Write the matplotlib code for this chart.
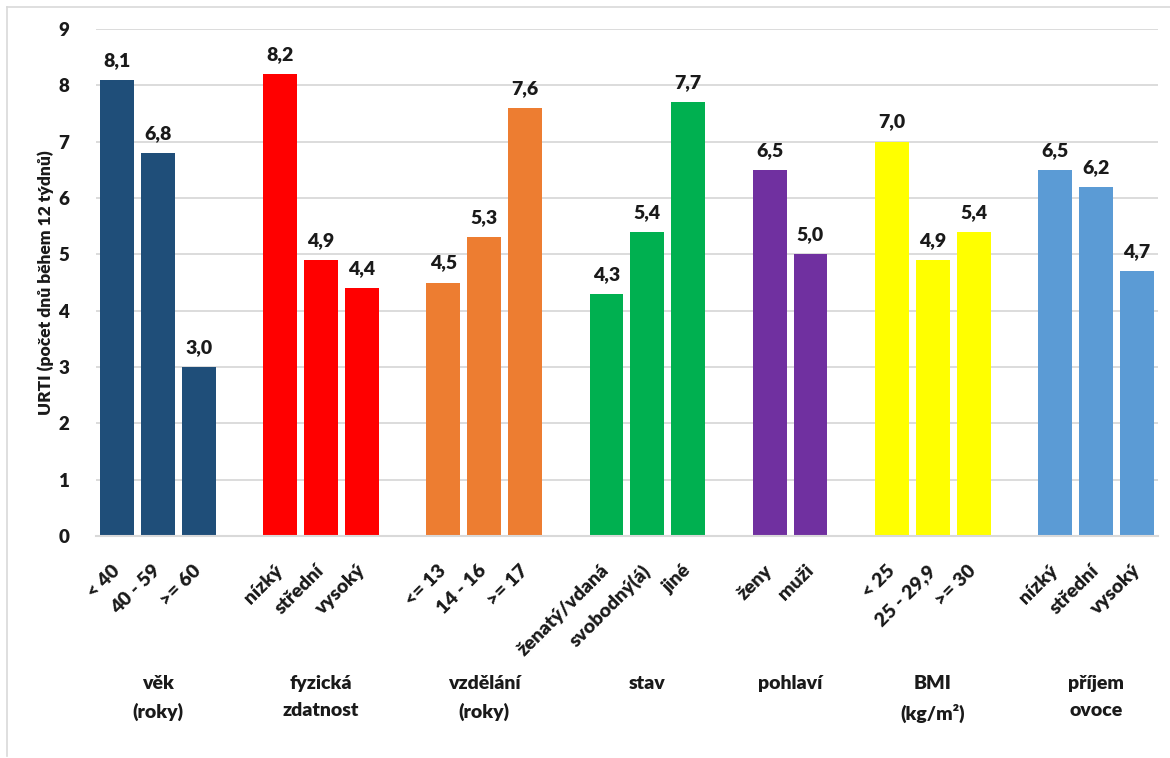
import matplotlib
matplotlib.use("Agg")
import matplotlib.pyplot as plt
from matplotlib.lines import Line2D

plt.rcParams['font.family'] = ['Lato', 'DejaVu Sans']
plt.rcParams['font.weight'] = 'heavy'
FW = 'heavy'

# Data: groups of categories with URTI values (days during 12 weeks)
group_names = ["věk\n(roky)", "fyzická\nzdatnost", "vzdělání\n(roky)", "stav",
               "pohlaví", "BMI\n(kg/m²)", "příjem\novoce"]
group_categories = [
    ["< 40", "40 - 59", ">= 60"],
    ["nízký", "střední", "vysoký"],
    ["<= 13", "14 - 16", ">= 17"],
    ["ženatý/vdaná", "svobodný(á)", "jiné"],
    ["ženy", "muži"],
    ["< 25", "25 - 29,9", ">= 30"],
    ["nízký", "střední", "vysoký"],
]
group_values = [
    [8.1, 6.8, 3.0],
    [8.2, 4.9, 4.4],
    [4.5, 5.3, 7.6],
    [4.3, 5.4, 7.7],
    [6.5, 5.0],
    [7.0, 4.9, 5.4],
    [6.5, 6.2, 4.7],
]
group_colors = ["#1F4E79", "#FF0000", "#ED7D31", "#00B050",
                "#7030A0", "#FFFF00", "#5B9BD5"]
y_ticks = list(range(0, 10))

fig = plt.figure(figsize=(11.70, 7.58), dpi=100)
ax = fig.add_axes([0.0819, 0.2929, 0.9078, 0.6688])

# Lay groups out one slot apart
positions, values, colors, labels, centers = [], [], [], [], []
pos = 0
for cats, vals, col in zip(group_categories, group_values, group_colors):
    start = pos
    for c, v in zip(cats, vals):
        positions.append(pos)
        values.append(v)
        colors.append(col)
        labels.append(c)
        pos += 1
    centers.append((start + pos - 1) / 2)
    pos += 1

bars = ax.bar(positions, values, width=0.83, color=colors, zorder=3)

for x, v in zip(positions, values):
    ax.annotate(f"{v:.1f}".replace(".", ","), xy=(x, v), xytext=(0, 8),
                textcoords="offset points", ha="center", va="bottom",
                fontsize=14, fontweight=FW, color="#1a1a1a")

ax.set_xlim(-0.52, positions[-1] + 0.52)
ax.set_ylim(0, 9)
ax.set_yticks(y_ticks)
ax.set_yticklabels([str(t) for t in y_ticks], fontsize=13.5, fontweight=FW,
                   color="#1a1a1a")
ax.tick_params(axis="y", length=0, pad=19)
ax.yaxis.grid(True, color="#d9d9d9", linewidth=1.3, zorder=0)
ax.set_axisbelow(True)

ax.set_xticks(positions)
ax.set_xticklabels(labels, rotation=45, ha="right", va="center",
                   rotation_mode="anchor", fontsize=14, fontweight=FW,
                   color="#1a1a1a")
ax.tick_params(axis="x", length=0, pad=23)

for s in ["top", "right", "left"]:
    ax.spines[s].set_visible(False)
ax.spines["bottom"].set_color("#d9d9d9")
ax.spines["bottom"].set_linewidth(1.5)
ax.spines["bottom"].set_zorder(4)

ax.set_ylabel("URTI (počet dnů během 12 týdnů)", fontsize=12.5,
              fontweight=FW, labelpad=3, color="#1a1a1a")

# Group captions under the category labels
for c, name in zip(centers, group_names):
    ax.text(c, -0.275, name, transform=ax.get_xaxis_transform(),
            ha="center", va="top", fontsize=14, fontweight=FW,
            linespacing=1.7, color="#1a1a1a")

# Outer chart-area frame (top and left edges)
W, H = 1170, 758
fig.add_artist(Line2D([7 / W, 1.0], [1 - 7 / H, 1 - 7 / H],
                      transform=fig.transFigure, color="#d9d9d9", linewidth=1.2))
fig.add_artist(Line2D([7 / W, 7 / W], [1 - 7 / H, 1 - 756 / H],
                      transform=fig.transFigure, color="#d9d9d9", linewidth=1.2))

fig.savefig("out.png", dpi=100)
